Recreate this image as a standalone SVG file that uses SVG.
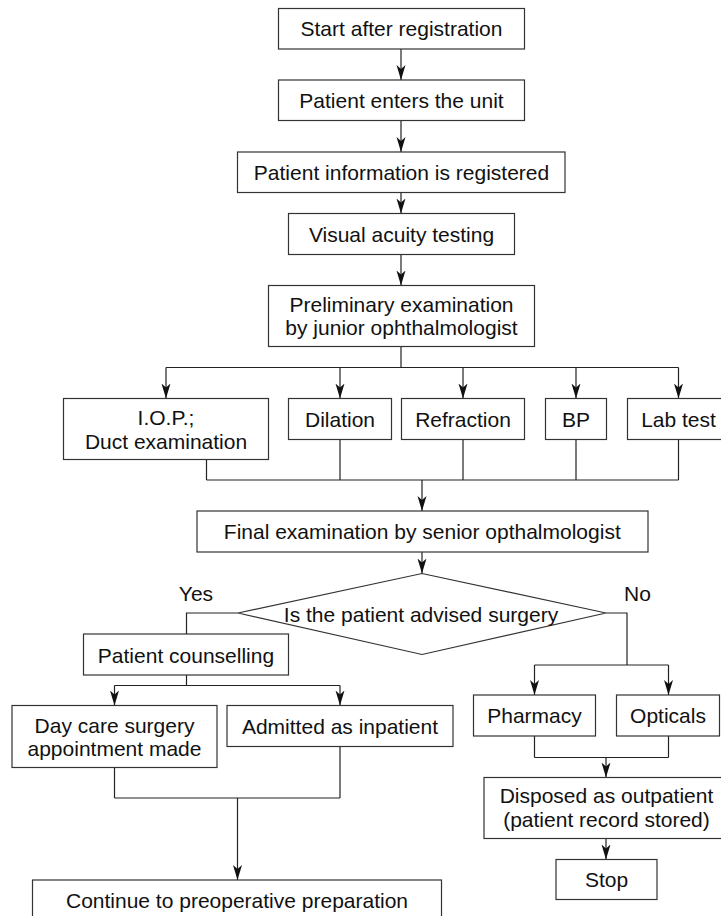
<svg xmlns="http://www.w3.org/2000/svg" width="721" height="916" viewBox="0 0 721 916">
<style>
.b{fill:#fff;stroke:#333;stroke-width:1.2}
.t{font-family:"Liberation Sans",Arial,sans-serif;font-size:21px;fill:#111;text-anchor:middle}
.c{fill:none;stroke:#222;stroke-width:1.2}
.a{marker-end:url(#ah)}
</style>
<defs>
<marker id="ah" markerWidth="16" markerHeight="10" refX="15" refY="5" orient="auto" markerUnits="userSpaceOnUse">
<path d="M0,0.5 L15,5 L0,9.5 L4,5 Z" fill="#111"/>
</marker>
</defs>
<rect width="721" height="916" fill="#fff"/>
<g id="connectors">
<path class="c a" d="M401,49 V80"/>
<path class="c a" d="M401,120.5 V152"/>
<path class="c a" d="M401,192.5 V213.5"/>
<path class="c a" d="M401,254.5 V285.5"/>
<path class="c" d="M401,346.5 V367.5 M166,367.5 H678.5"/>
<path class="c a" d="M166,367.5 V398.5"/>
<path class="c a" d="M340,367.5 V398.5"/>
<path class="c a" d="M463,367.5 V398.5"/>
<path class="c a" d="M576,367.5 V398.5"/>
<path class="c a" d="M678.5,367.5 V398.5"/>
<path class="c" d="M206.5,459.5 V480 M340,439.5 V480 M463,439.5 V480 M576,439.5 V480 M678.5,439.5 V480 M206.5,480 H678.5"/>
<path class="c a" d="M422,480 V511"/>
<path class="c a" d="M422,552 V573.5"/>
<path class="c" d="M238,613 H186.5 V634"/>
<path class="c" d="M186.5,675 V685.5 M114.5,685.5 H340"/>
<path class="c a" d="M114.5,685.5 V705.5"/>
<path class="c a" d="M340,685.5 V705.5"/>
<path class="c" d="M114.5,767.5 V798 M340,746.5 V798 M114.5,798 H340"/>
<path class="c a" d="M237.5,798 V880"/>
<path class="c" d="M606,613 H627 V665 M534.5,665 H668.5"/>
<path class="c a" d="M534.5,665 V695"/>
<path class="c a" d="M668.5,665 V695"/>
<path class="c" d="M534.5,736 V757.5 M668.5,736 V757.5 M534.5,757.5 H668.5"/>
<path class="c a" d="M606,757.5 V777.5"/>
<path class="c a" d="M606,838.5 V859.5"/>
</g>
<g id="start"><rect class="b" x="278.5" y="8.5" width="246" height="40.5"/><text class="t" x="401.5" y="36">Start after registration</text></g>
<g id="enters"><rect class="b" x="278.5" y="80" width="246" height="40.5"/><text class="t" x="401.5" y="108">Patient enters the unit</text></g>
<g id="info"><rect class="b" x="237.5" y="152" width="327.5" height="40.5"/><text class="t" x="401.5" y="180">Patient information is registered</text></g>
<g id="visual"><rect class="b" x="288.5" y="213.5" width="226" height="41"/><text class="t" x="401.5" y="241.5">Visual acuity testing</text></g>
<g id="prelim"><rect class="b" x="268.5" y="285.5" width="266" height="61"/><text class="t" x="401.5" y="312">Preliminary examination</text><text class="t" x="401.5" y="335">by junior ophthalmologist</text></g>
<g id="iop"><rect class="b" x="63.5" y="398.5" width="205" height="61"/><text class="t" x="166" y="425">I.O.P.;</text><text class="t" x="166" y="449">Duct examination</text></g>
<g id="dilation"><rect class="b" x="288.5" y="398.5" width="103" height="41"/><text class="t" x="340" y="426.5">Dilation</text></g>
<g id="refraction"><rect class="b" x="401.5" y="398.5" width="123" height="41"/><text class="t" x="463" y="426.5">Refraction</text></g>
<g id="bp"><rect class="b" x="545.5" y="398.5" width="61" height="41"/><text class="t" x="576" y="426.5">BP</text></g>
<g id="lab"><rect class="b" x="627.5" y="398.5" width="102" height="41"/><text class="t" x="678.5" y="426.5">Lab test</text></g>
<g id="final"><rect class="b" x="197" y="511" width="451" height="41"/><text class="t" x="422.3" y="538.5">Final examination by senior opthalmologist</text></g>
<g id="decision"><polygon class="b" points="422,573.5 606,613 422,654.5 238,613"/><text class="t" x="421" y="621.5">Is the patient advised surgery</text><text class="t" x="196" y="600.5">Yes</text><text class="t" x="637.5" y="600.5">No</text></g>
<g id="counselling"><rect class="b" x="83.5" y="634" width="205" height="41"/><text class="t" x="186" y="662.5">Patient counselling</text></g>
<g id="daycare"><rect class="b" x="12" y="705.5" width="205" height="62"/><text class="t" x="114.5" y="732.5">Day care surgery</text><text class="t" x="114.5" y="756">appointment made</text></g>
<g id="admitted"><rect class="b" x="227" y="705.5" width="226" height="41"/><text class="t" x="340" y="733.5">Admitted as inpatient</text></g>
<g id="continue"><rect class="b" x="32.5" y="880" width="409" height="60"/><text class="t" x="237" y="908">Continue to preoperative preparation</text></g>
<g id="pharmacy"><rect class="b" x="473.5" y="695" width="122" height="41"/><text class="t" x="534.5" y="723">Pharmacy</text></g>
<g id="opticals"><rect class="b" x="616.5" y="695" width="103" height="41"/><text class="t" x="668" y="723">Opticals</text></g>
<g id="disposed"><rect class="b" x="484" y="777.5" width="245" height="61"/><text class="t" x="606.5" y="803">Disposed as outpatient</text><text class="t" x="606.5" y="827">(patient record stored)</text></g>
<g id="stop"><rect class="b" x="556" y="859.5" width="101" height="40"/><text class="t" x="606.5" y="887">Stop</text></g>
</svg>
